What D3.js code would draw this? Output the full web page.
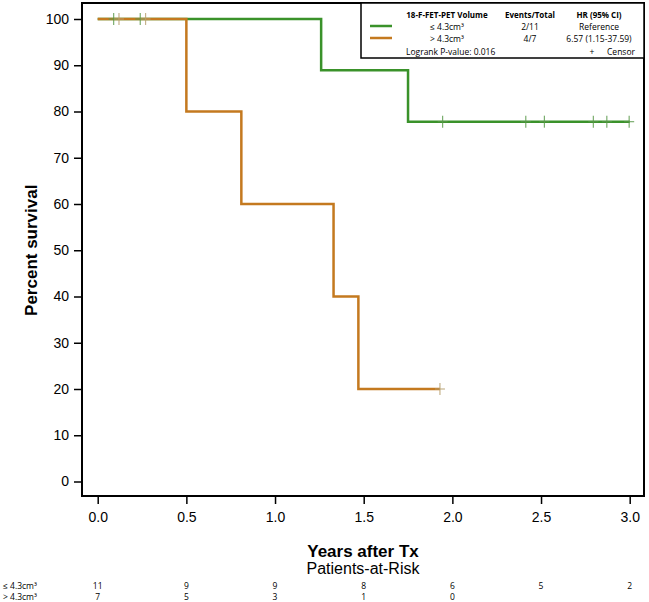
<!DOCTYPE html>
<head>
  <meta charset="utf-8">
  <script src="https://cdn.jsdelivr.net/npm/d3@7"></script>
</head>
<style>
  body { margin: 0; background: #fff; }
  text { font-family: "Liberation Sans", Arial, sans-serif; }
</style>
<body>
<script>

    // survival steps: [time, percent]
    var lowSteps = [[0, 100], [1.26, 88.9], [1.75, 77.8], [3.0, 77.8]];
    var highSteps = [[0, 100], [0.5, 80], [0.81, 60], [1.33, 40], [1.47, 20], [1.93, 20]];
    var lowCensor = [0.09, 0.24, 1.945, 2.414, 2.519, 2.795, 2.871, 2.997];
    var highCensor = [0.12, 0.27, 1.93];

    var xTicks = [0, 0.5, 1.0, 1.5, 2.0, 2.5, 3.0];
    var yTicks = [0, 10, 20, 30, 40, 50, 60, 70, 80, 90, 100];
    var riskLabels = ["\u2264 4.3cm\u00b3", "> 4.3cm\u00b3"];
    var riskLow = [11, 9, 9, 8, 6, 5, 2];
    var riskHigh = [7, 5, 3, 1, 0];

    var green = "#3a922a", orange = "#c4791f";

    var width = 649, height = 602;
    var frame = {left: 82, top: 3, right: 644, bottom: 496};

    var x = d3.scaleLinear().domain([0, 3]).range([97.7, 629.7]);
    var y = d3.scaleLinear().domain([0, 100]).range([481.5, 19]);

    var svg = d3.select("body").append("svg")
        .attr("width", width)
        .attr("height", height);

    // frame
    svg.append("rect")
        .attr("x", frame.left).attr("y", frame.top)
        .attr("width", frame.right - frame.left)
        .attr("height", frame.bottom - frame.top)
        .attr("fill", "none").attr("stroke", "#000").attr("stroke-width", 2);

    // y axis
    var yAxis = svg.append("g")
        .attr("transform", "translate(" + frame.left + ",0)")
        .call(d3.axisLeft(y).tickValues(yTicks).tickSize(8).tickPadding(5).tickFormat(d3.format("d")));
    yAxis.select(".domain").remove();
    yAxis.selectAll("line").attr("stroke-width", 1.5);
    yAxis.selectAll("text").style("font-size", "14px").attr("fill", "#000");

    // x axis
    var xAxis = svg.append("g")
        .attr("transform", "translate(0," + frame.bottom + ")")
        .call(d3.axisBottom(x).tickValues(xTicks).tickSize(8).tickPadding(8).tickFormat(d3.format(".1f")));
    xAxis.select(".domain").remove();
    xAxis.selectAll("line").attr("stroke-width", 1.5);
    xAxis.selectAll("text").style("font-size", "14px").attr("fill", "#000");

    svg.append("text")
        .attr("transform", "translate(37," + y(50) + ") rotate(-90)")
        .attr("text-anchor", "middle")
        .style("font-size", "17px").style("font-weight", "bold")
        .text("Percent survival");

    svg.append("text")
        .attr("x", 363).attr("y", 557)
        .attr("text-anchor", "middle")
        .style("font-size", "17px").style("font-weight", "bold")
        .text("Years after Tx");

    svg.append("text")
        .attr("x", 363).attr("y", 574)
        .attr("text-anchor", "middle")
        .style("font-size", "16px")
        .text("Patients-at-Risk");

    // step lines
    var line = d3.line()
        .x(function(d) { return x(d[0]); })
        .y(function(d) { return y(d[1]); })
        .curve(d3.curveStepAfter);

    function censorMarks(times, steps, color) {
      times.forEach(function(t) {
        var v = steps[0][1];
        steps.forEach(function(s) { if (s[0] <= t) v = s[1]; });
        var cx = x(t), cy = y(v);
        svg.append("line").attr("x1", cx).attr("x2", cx).attr("y1", cy - 6).attr("y2", cy + 6)
          .attr("stroke", color).attr("stroke-width", 1.2).attr("opacity", 0.8);
        svg.append("line").attr("x1", cx - 5).attr("x2", cx + 5).attr("y1", cy).attr("y2", cy)
          .attr("stroke", color).attr("stroke-width", 1.2).attr("opacity", 0.8);
      });
    }

    svg.append("path").datum(lowSteps)
        .attr("d", line).attr("fill", "none")
        .attr("stroke", green).attr("stroke-width", 2.5);
    svg.append("path").datum(highSteps)
        .attr("d", line).attr("fill", "none")
        .attr("stroke", orange).attr("stroke-width", 2.5);

    censorMarks(lowCensor, lowSteps, "#5a9a4a");
    censorMarks(highCensor, highSteps, "#b8a070");

    // legend
    var lg = svg.append("g");
    lg.append("rect")
        .attr("x", 361).attr("y", frame.top)
        .attr("width", frame.right - 361).attr("height", 55)
        .attr("fill", "#fff").attr("stroke", "#000").attr("stroke-width", 1.5);

    var lf = "'Open Sans', sans-serif";
    var heads = [["18-F-FET-PET Volume", 447], ["Events/Total", 530], ["HR (95% CI)", 599]];
    heads.forEach(function(h) {
      lg.append("text").attr("x", h[1]).attr("y", 18).attr("text-anchor", "middle")
        .style("font-family", lf).style("font-size", "8px").style("font-weight", "bold").text(h[0]);
    });
    var rows = [[riskLabels[0], "2/11", "Reference", green, 29.5],
                [riskLabels[1], "4/7", "6.57 (1.15-37.59)", orange, 41.5]];
    rows.forEach(function(r) {
      lg.append("line").attr("x1", 370).attr("x2", 392).attr("y1", r[4] - 3.5).attr("y2", r[4] - 3.5)
        .attr("stroke", r[3]).attr("stroke-width", 2.5);
      [[r[0], 447], [r[1], 530], [r[2], 599]].forEach(function(c) {
        lg.append("text").attr("x", c[1]).attr("y", r[4]).attr("text-anchor", "middle")
          .style("font-family", lf).style("font-size", "8.5px").text(c[0]);
      });
    });
    lg.append("text").attr("x", 406).attr("y", 54.5)
      .style("font-family", lf).style("font-size", "8.5px").text("Logrank P-value: 0.016");
    lg.append("text").attr("x", 592).attr("y", 54.5).attr("text-anchor", "middle")
      .style("font-family", lf).style("font-size", "8.5px").text("+");
    lg.append("text").attr("x", 635).attr("y", 54.5).attr("text-anchor", "end")
      .style("font-family", lf).style("font-size", "8.5px").text("Censor");

    // risk table
    [riskLow, riskHigh].forEach(function(vals, i) {
      var ry = 589 + i * 11;
      svg.append("text").attr("x", 3).attr("y", ry)
        .style("font-family", lf).style("font-size", "8.5px").text(riskLabels[i]);
      vals.forEach(function(v, j) {
        svg.append("text").attr("x", x(xTicks[j])).attr("y", ry).attr("text-anchor", "middle")
          .style("font-family", lf).style("font-size", "8.5px").text(v);
      });
    });

</script>
</body>
